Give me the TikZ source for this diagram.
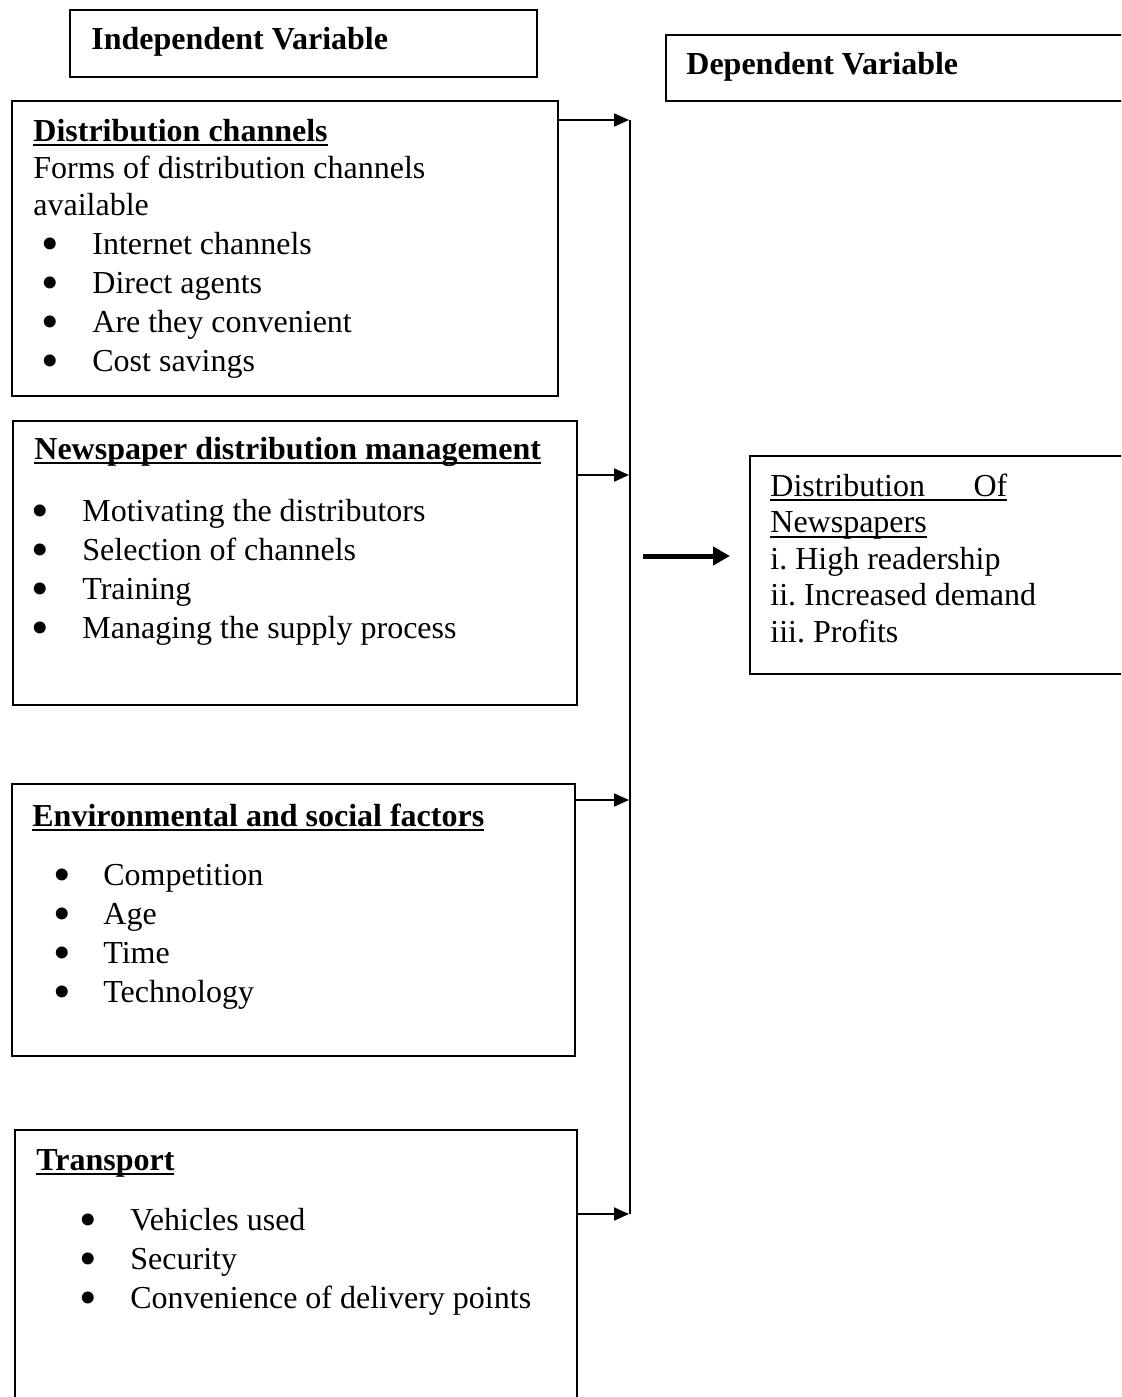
\documentclass[tikz,border=0pt]{standalone}
\usepackage{fontspec}
\setmainfont{Liberation Serif}
\usetikzlibrary{arrows.meta,fit}
\frenchspacing

% bullet line: bullet centre offset, text offset, text
\newcommand{\bitem}[3]{\makebox[#2][l]{\hspace*{#1}\makebox[0pt]{\smash{\raisebox{-3pt}{\fontsize{25}{0}\selectfont\textbullet}}}}#3}
\newcommand{\boldul}[1]{\setbox0\hbox{\bfseries #1}\rlap{\rule[-2.7pt]{\wd0}{1.3pt}}\box0}
\newcommand{\plainul}[1]{\setbox0\hbox{#1}\rlap{\rule[-2.5pt]{\wd0}{0.8pt}}\box0}

\tikzset{
  box/.style={draw, line width=1pt, inner sep=0pt},
  % multi-line text: placed at the baseline of its last line
  txt/.style={anchor=base west, inner sep=0pt, align=left, font=\fontsize{16}{19.5}\selectfont},
  feed/.style={-{Triangle[length=7.5pt,width=6.5pt]}, line width=1pt},
  bigfeed/.style={-{Triangle[length=8.5pt,width=9pt]}, line width=2.5pt},
}

\begin{document}
\begin{tikzpicture}[x=0.5pt, y=-0.5pt]
  \useasboundingbox (0,0) rectangle (1121,1397);
  \clip (0,0) rectangle (1121,1397);

  % headings
  \node[box, fit={(70,10) (537,77)}] (indep) {};
  \node[txt] (indeplbl) at (91,49) {\bfseries Independent Variable};
  \node[box, fit={(666,35) (1130,101)}] (dep) {};
  \node[txt] (deplbl) at (686,74) {\bfseries Dependent Variable};

  % independent variables
  \node[box, fit={(12,101) (558,396)}] (chan) {};
  \node[txt] (chanlbl) at (33,371) {\boldul{Distribution channels}\\[-1pt]
    Forms of distribution channels\\[-1pt]
    available\\
    \bitem{8.5pt}{29.5pt}{Internet channels}\\
    \bitem{8.5pt}{29.5pt}{Direct agents}\\
    \bitem{8.5pt}{29.5pt}{Are they convenient}\\
    \bitem{8.5pt}{29.5pt}{Cost savings}};

  \node[box, fit={(13,421) (577,705)}] (mgmt) {};
  \node[txt] (mgmtlbl) at (34,638) {\boldul{Newspaper distribution management}\\[11.5pt]
    \bitem{3pt}{24pt}{Motivating the distributors}\\
    \bitem{3pt}{24pt}{Selection of channels}\\
    \bitem{3pt}{24pt}{Training}\\
    \bitem{3pt}{24pt}{Managing the supply process}};

  \node[box, fit={(12,784) (575,1056)}] (env) {};
  \node[txt] (envlbl) at (32,1002) {\boldul{Environmental and social factors}\\[10pt]
    \bitem{15pt}{35.5pt}{Competition}\\
    \bitem{15pt}{35.5pt}{Age}\\
    \bitem{15pt}{35.5pt}{Time}\\
    \bitem{15pt}{35.5pt}{Technology}};

  \node[box, fit={(15,1130) (577,1410)}] (trans) {};
  \node[txt] (translbl) at (36,1308) {\boldul{Transport}\\[10.5pt]
    \bitem{26pt}{47pt}{Vehicles used}\\
    \bitem{26pt}{47pt}{Security}\\
    \bitem{26pt}{47pt}{Convenience of delivery points}};

  % dependent variable
  \node[box, fit={(750,456) (1130,674)}] (dist) {};
  \node[txt, font=\fontsize{16}{18.25}\selectfont] (distlbl) at (770,642)
    {\plainul{\makebox[118.5pt][s]{Distribution\hfill Of}}\\
     \plainul{Newspapers}\\
     i. High readership\\
     ii. Increased demand\\
     iii. Profits};

  % collecting line and arrows
  \coordinate (bustop) at (630,120);
  \coordinate (busbot) at (630,1214);
  \draw[line width=1pt] (bustop) -- (busbot);
  \coordinate (in1) at (629,120);
  \coordinate (in2) at (629,475);
  \coordinate (in3) at (629,800);
  \coordinate (in4) at (629,1214);
  \draw[feed] (chan.east |- in1) -- (in1);
  \draw[feed] (mgmt.east |- in2) -- (in2);
  \draw[feed] (env.east |- in3) -- (in3);
  \draw[feed] (trans.east |- in4) -- (in4);
  \coordinate (out) at (643,556);
  \draw[bigfeed, shorten >=9.5pt] (out) -- (dist.west |- out);
\end{tikzpicture}
\end{document}
